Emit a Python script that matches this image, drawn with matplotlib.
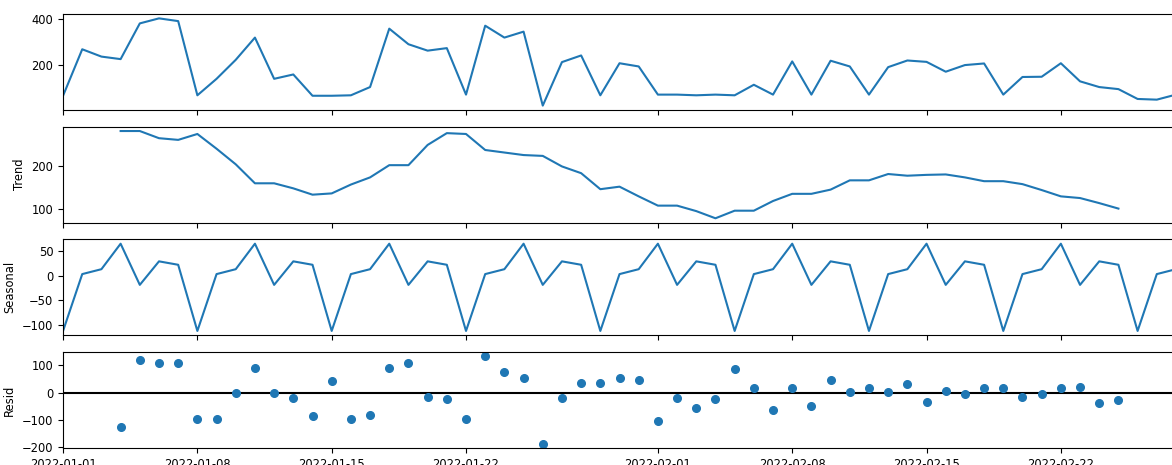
import numpy as np
import pandas as pd
import matplotlib
matplotlib.use("Agg")
from matplotlib import pyplot as plt

plt.rcParams["font.size"] = 8.3

dates = pd.date_range("2022-01-01", "2022-02-28", freq="D")

observed = [65, 268, 236, 225, 381, 403, 391, 67, 139, 222,
            319, 139, 158, 65, 65, 67, 103, 358, 290, 262,
            273, 70, 371, 319, 345, 22, 212, 241, 67, 207,
            193, 70, 70, 67, 70, 67, 113, 70, 215, 70,
            218, 193, 70, 190, 219, 213, 170, 199, 206, 70,
            147, 148, 207, 128, 103, 94, 51, 48, 70]

trend = [None, None, None, 284, 284, 267, 263, 277, 242, 205,
         160, 160, 148, 133, 136, 157, 174, 203, 203, 251,
         279, 277, 239, 233, 227, 225, 200, 184, 146, 152,
         129, 107, 107, 94, 77, 95, 95, 118, 135, 135,
         145, 167, 167, 182, 178, 180, 181, 174, 165, 165,
         158, 144, 129, 125, 113, 100, None, None, None]

seasonal = [-113, 3, 13, 65, -19, 29, 22,
            -113, 3, 13, 65, -19, 29, 22,
            -113, 3, 13, 65, -19, 29, 22,
            -113, 3, 13, 65, -19, 29, 22,
            -113, 3, 13, 65, -19, 29, 22,
            -113, 3, 13, 65, -19, 29, 22,
            -113, 3, 13, 65, -19, 29, 22,
            -113, 3, 13, 65, -19, 29, 22,
            -113, 3, 13]

resid = [None, None, None, -127, 121, 109, 107, -99, -99, 0,
         92, -2, -21, -87, 44, -96, -81, 90, 107, -17,
         -23, -96, 133, 75, 55, -188, -21, 36, 35, 55,
         46, -105, -21, -56, -24, 85, 15, -63, 15, -51,
         46, 2, 15, 2, 30, -35, 6, -5, 17, 17,
         -15, -5, 15, 22, -38, -28, None, None, None]

components = [
    ("", np.array(observed, dtype=float)),
    ("Trend", np.array(trend, dtype=float)),
    ("Seasonal", np.array(seasonal, dtype=float)),
    ("Resid", np.array(resid, dtype=float)),
]

fig, axes = plt.subplots(4, 1, sharex=True, figsize=(11.72, 4.65), dpi=100)
fig.subplots_adjust(left=0.0538, right=1.0034, top=0.9699, bottom=0.0366,
                    hspace=0.174)

for ax, (name, values) in zip(axes, components):
    if name == "Resid":
        ax.plot(dates, values, marker="o", linestyle="none", markersize=5.5)
        ax.plot([dates[0], dates[-1]], [0, 0], color="#000000", zorder=-3)
    else:
        ax.plot(dates, values)
    ax.set_ylabel(name)
    ax.set_xlim(dates[0], dates[-1])

fig.savefig("out.png", dpi=100)
